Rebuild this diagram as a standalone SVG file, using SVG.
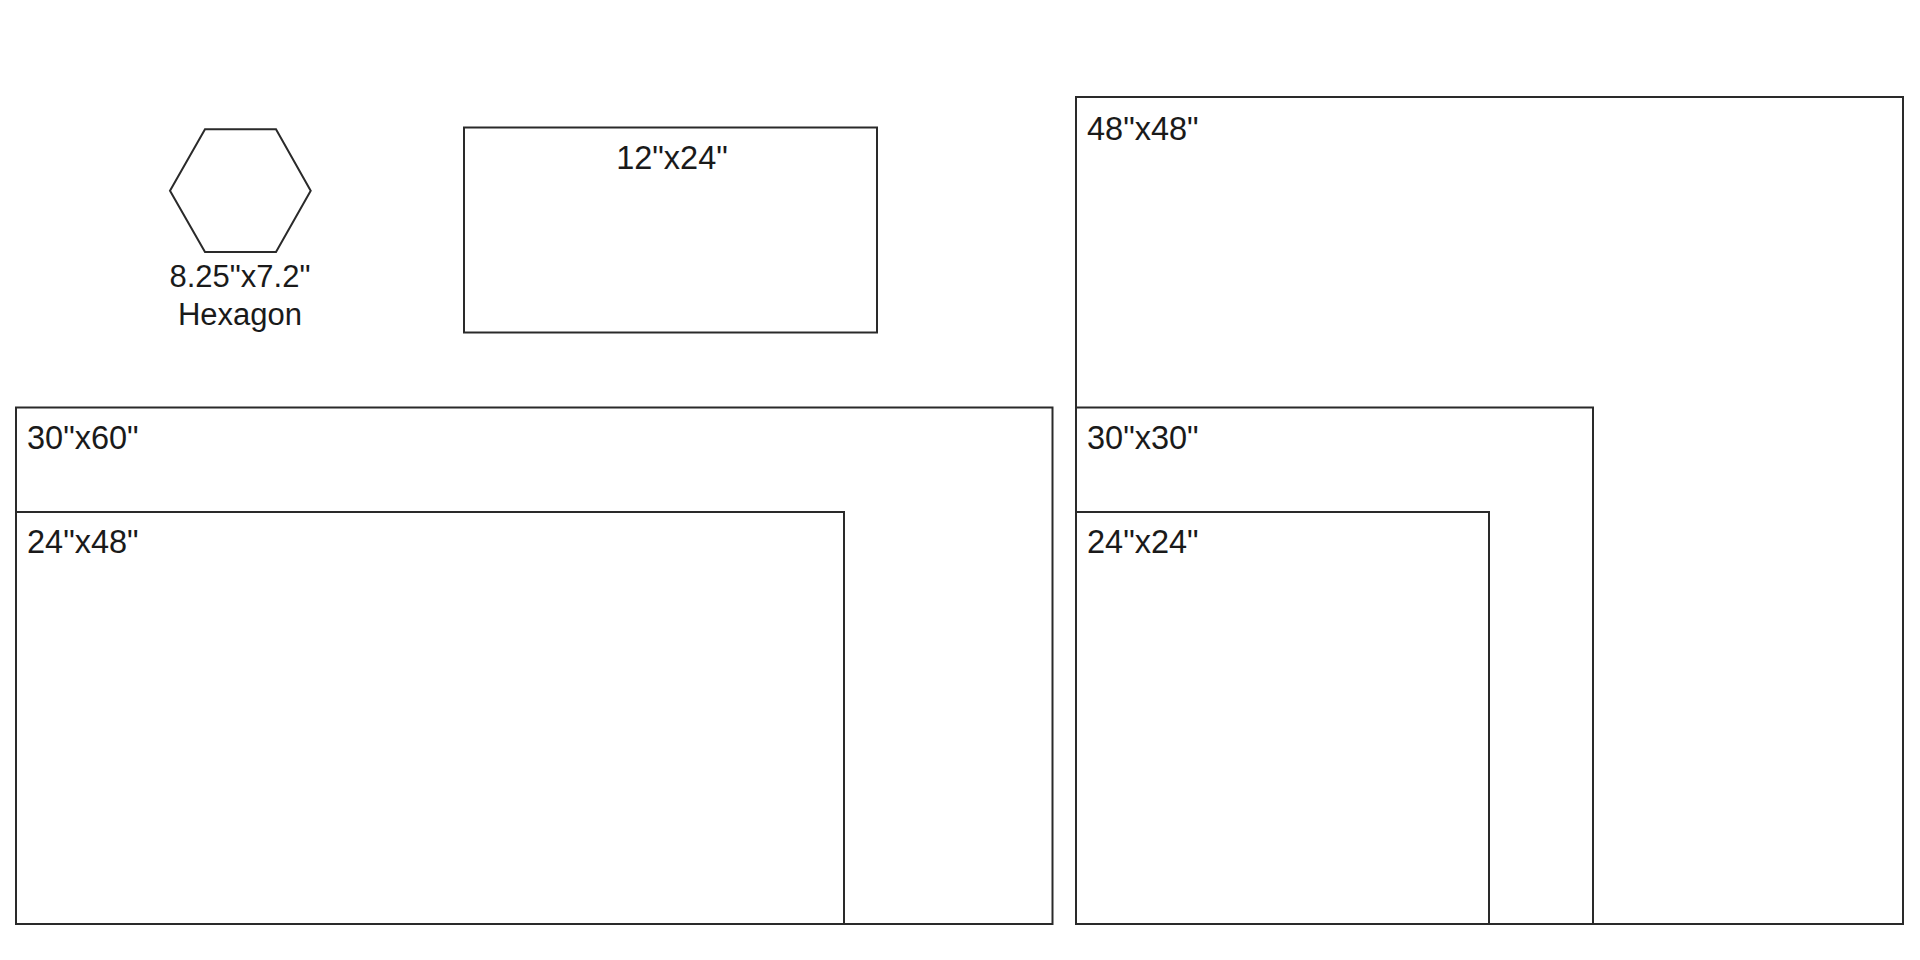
<svg xmlns="http://www.w3.org/2000/svg" width="1920" height="960" viewBox="0 0 1920 960">
  <style>
    .shape { fill: none; stroke: #2a2a2a; stroke-width: 2; }
    .lbl { font-family: "Liberation Sans", Arial, sans-serif; font-size: 32.5px; fill: #1a1a1a; }
    .hex { font-size: 31px; }
    .mid { text-anchor: middle; }
  </style>
  <rect x="0" y="0" width="1920" height="960" fill="#ffffff"/>
  <g id="hexagon">
    <polygon class="shape" points="170,190.7 205,129.3 276,129.3 310.7,190.7 276,252 205,252"/>
    <text class="lbl hex mid" x="240" y="287">8.25"x7.2"</text>
    <text class="lbl hex mid" x="240" y="325">Hexagon</text>
  </g>
  <g id="rect-12x24">
    <rect class="shape" x="464" y="127.5" width="413" height="205"/>
    <text class="lbl mid" x="672" y="169">12"x24"</text>
  </g>
  <g id="rect-30x60">
    <rect class="shape" x="16" y="407.5" width="1036.5" height="516.5"/>
    <text class="lbl" x="27" y="449">30"x60"</text>
  </g>
  <g id="rect-24x48">
    <rect class="shape" x="16" y="512" width="828" height="412"/>
    <text class="lbl" x="27" y="553">24"x48"</text>
  </g>
  <g id="rect-48x48">
    <rect class="shape" x="1076" y="97" width="827" height="827"/>
    <text class="lbl" x="1087" y="140">48"x48"</text>
  </g>
  <g id="rect-30x30">
    <rect class="shape" x="1076" y="407.5" width="517" height="516.5"/>
    <text class="lbl" x="1087" y="449">30"x30"</text>
  </g>
  <g id="rect-24x24">
    <rect class="shape" x="1076" y="512" width="413" height="412"/>
    <text class="lbl" x="1087" y="553">24"x24"</text>
  </g>
  <g id="connectors"/>
</svg>
